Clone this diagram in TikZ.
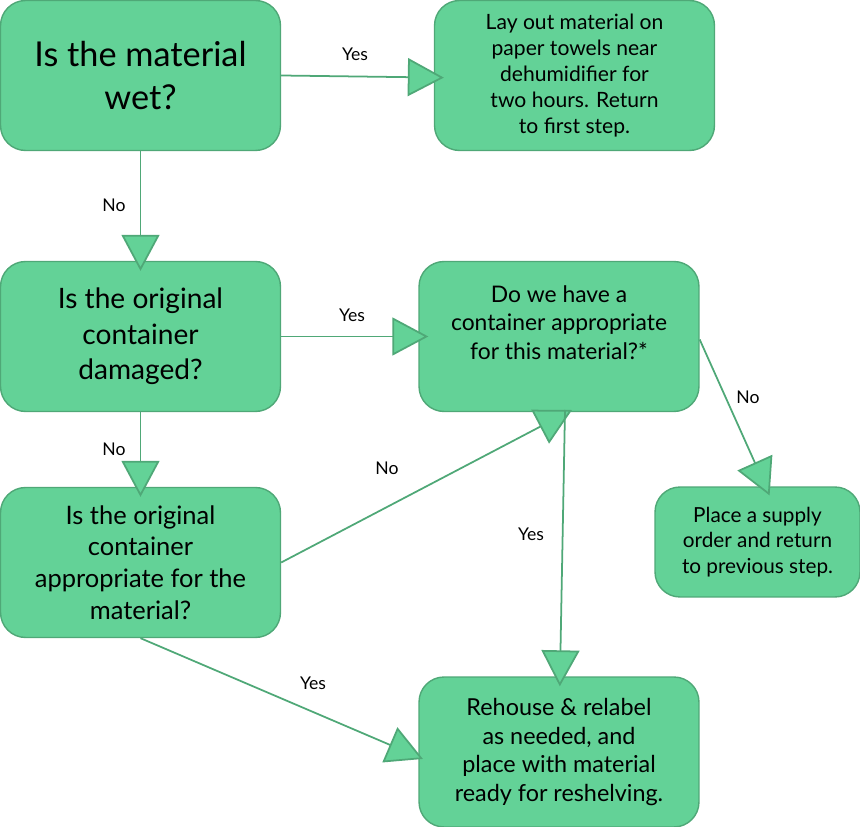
\documentclass[tikz,border=0pt]{standalone}
\usepackage{fontspec}
\setmainfont{Lato}
\usetikzlibrary{arrows.meta}

\definecolor{flowfill}{HTML}{63D297}
\definecolor{flowline}{HTML}{4FA877}

\tikzset{
  flowbox/.style={draw=flowline, fill=flowfill, line width=0.8pt, rounded corners=0.5cm, align=center, inner sep=0pt},
  flowarrow/.style={draw=flowline, line width=1pt, -{Triangle[length=0.72cm,width=0.76cm,fill=flowfill]}, shorten >=-0.2cm},
  flowlabel/.style={font=\fontsize{10}{12}\selectfont}
}

\begin{document}
\begin{tikzpicture}[x=0.02cm, y=-0.02cm]
  \useasboundingbox (0,0) rectangle (860,827);

  % question boxes on the left
  \node[flowbox, minimum width=5.6cm, minimum height=3cm, font=\fontsize{19.5}{24}\selectfont] (wet) at (140.5,75.5){Is the material\\wet?};
  \node[flowbox, minimum width=5.6cm, minimum height=3cm, font=\fontsize{16}{20.2}\selectfont] (damaged) at (140.5,336.5){Is the original\\container\\damaged?};
  \node[flowbox, minimum width=5.6cm, minimum height=3cm, font=\fontsize{14.5}{18}\selectfont] (original) at (140.5,562.5){Is the original\\container\\appropriate for the\\material?};

  % boxes on the right
  \node[flowbox, minimum width=5.6cm, minimum height=3cm, font=\fontsize{12}{14.8}\selectfont] (dry) at (574.5,75.5){Lay out material on\\paper towels near\\dehumidifier for\\two hours. Return\\to first step.};
  \node[flowbox, minimum width=5.6cm, minimum height=3cm, font=\fontsize{13}{16.2}\selectfont] (have) at (559,336.5){Do we have a\\container appropriate\\for this material?*\\\mbox{}};
  \node[flowbox, minimum width=4.1cm, minimum height=2.2cm, font=\fontsize{11.8}{14.5}\selectfont] (supply) at (757.5,542){Place a supply\\order and return\\to previous step.};
  \node[flowbox, minimum width=5.6cm, minimum height=3cm, font=\fontsize{13.3}{16.3}\selectfont] (rehouse) at (559,752){Rehouse \& relabel\\as needed, and\\place with material\\ready for reshelving.};

  % free ends
  \coordinate (meet) at (572,410);
  \coordinate (drop) at (565,410);

  % connectors
  \draw[flowarrow] (wet.east) -- ([yshift=-0.04cm]dry.west);
  \draw[flowarrow] (wet.south) -- (damaged.north);
  \draw[flowarrow] (damaged.east) -- (have.west);
  \draw[flowarrow] (damaged.south) -- (original.north);
  \draw[flowarrow, shorten >=0cm] (original.east) -- (meet);
  \draw[flowarrow] (drop) -- ([xshift=0.02cm]rehouse.north);
  \draw[flowarrow] ([yshift=-0.06cm]have.east) -- ([xshift=0.16cm]supply.north);
  \draw[flowarrow, shorten >=-0.1cm] (original.south) -- ([yshift=-0.1cm]rehouse.west);

  % connector labels
  \node[flowlabel] (yesWet) at (355,54){Yes};
  \node[flowlabel] (noWet) at (114,205){No};
  \node[flowlabel] (yesDamaged) at (352,315){Yes};
  \node[flowlabel] (noDamaged) at (114,449){No};
  \node[flowlabel] (noOriginal) at (387,468){No};
  \node[flowlabel] (yesHave) at (531,534){Yes};
  \node[flowlabel] (noHave) at (748,397){No};
  \node[flowlabel] (yesOriginal) at (313,683){Yes};

\end{tikzpicture}
\end{document}
